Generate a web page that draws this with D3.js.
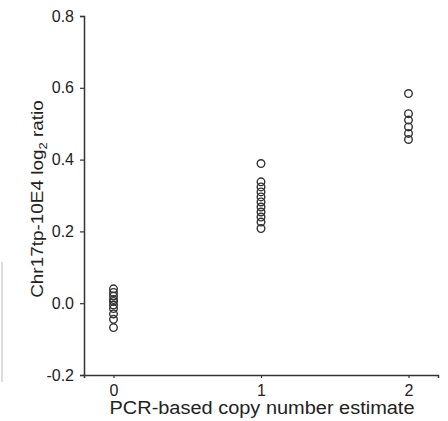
<!DOCTYPE html>
<html>
<head>
<meta charset="utf-8">
<script src="https://cdn.jsdelivr.net/npm/d3@7"></script>
<style>
  body { margin: 0; background: #fff; }
  svg { display: block; }
  text { font-family: "Liberation Sans", Arial, sans-serif; fill: #222; }
</style>
</head>
<body>
<svg id="chart"></svg>
<script>
// copy number groups and measured log2 ratios
var copyNumbers = [0, 1, 2];
var ratios0 = [0.04, 0.03, 0.02, 0.01, 0.005, -0.005, -0.015, -0.03, -0.045, -0.068];
var ratios1 = [0.389, 0.338, 0.324, 0.31, 0.296, 0.282, 0.268, 0.254, 0.24, 0.226, 0.208];
var ratios2 = [0.584, 0.528, 0.51, 0.491, 0.473, 0.456];
var yTicks = [-0.2, 0.0, 0.2, 0.4, 0.6, 0.8];

var width = 448,
  height = 421;
var plotLeft = 84,
  plotRight = 438,
  plotTop = 16,
  plotBottom = 375;

var svg = d3.select("#chart").attr("width", width).attr("height", height);

var xScale = d3.scaleLinear().domain([-0.2, 2.2]).range([plotLeft, plotRight]);
var yScale = d3.scaleLinear().domain([-0.2, 0.8]).range([plotBottom, plotTop]);

// faint edge line from the scanned figure
svg.append("line")
  .attr("x1", 2).attr("x2", 2)
  .attr("y1", 262).attr("y2", 382)
  .attr("stroke", "#bbb")
  .attr("stroke-width", 1);

// Y axis
var yAxis = d3.axisLeft(yScale)
  .tickValues(yTicks)
  .tickFormat(function (d) { return d3.format(".1f")(d).replace("−", "-"); })
  .tickSize(4)
  .tickPadding(6);
var gy = svg.append("g")
  .attr("transform", "translate(" + plotLeft + ",0)")
  .call(yAxis);
gy.select(".domain").attr("stroke", "#333").attr("stroke-width", 1.5);
gy.selectAll(".tick line").attr("stroke", "#333").attr("stroke-width", 1.2);
gy.selectAll(".tick text")
  .style("font-size", "16px")
  .style("font-family", "Liberation Sans, Arial, sans-serif")
  .attr("fill", "#333");

// X axis
var xAxis = d3.axisBottom(xScale).tickValues(copyNumbers).tickFormat(d3.format("d")).tickSize(3).tickPadding(7);
var gx = svg.append("g")
  .attr("transform", "translate(0," + plotBottom + ")")
  .call(xAxis);
gx.select(".domain").attr("stroke", "#333").attr("stroke-width", 1.5);
gx.selectAll(".tick line").attr("stroke", "#333").attr("stroke-width", 1.2);
gx.selectAll(".tick text")
  .style("font-size", "16px")
  .style("font-family", "Liberation Sans, Arial, sans-serif")
  .attr("fill", "#333");

// points
var groups = [ratios0, ratios1, ratios2];
var points = [];
groups.forEach(function (vals, i) {
  vals.forEach(function (v) {
    points.push([copyNumbers[i], v]);
  });
});

svg.selectAll(".dot")
  .data(points)
  .enter()
  .append("circle")
  .attr("class", "dot")
  .attr("cx", function (d) { return xScale(d[0]); })
  .attr("cy", function (d) { return yScale(d[1]); })
  .attr("r", 3.8)
  .attr("fill", "none")
  .attr("stroke", "#333")
  .attr("stroke-width", 1.4);

// axis labels
var ylg = svg.append("g").attr("transform", "translate(43,199) rotate(-90)");
var yl = ylg.append("text")
  .attr("text-anchor", "middle")
  .style("font-size", "16px")
  .attr("fill", "#333");
yl.append("tspan").text("Chr17tp-10E4 log");
yl.append("tspan").attr("dy", 4).style("font-size", "11px").text("2");
yl.append("tspan").attr("dy", -4).text(" ratio");
var ylLen = yl.node().getBBox().width;
yl.attr("transform", "scale(" + (198 / ylLen) + ",1)");

svg.append("text")
  .attr("x", 262)
  .attr("y", 414)
  .attr("text-anchor", "middle")
  .attr("textLength", 305)
  .attr("lengthAdjust", "spacingAndGlyphs")
  .attr("fill", "#333")
  .style("font-size", "17.5px")
  .text("PCR-based copy number estimate");
</script>
</body>
</html>
